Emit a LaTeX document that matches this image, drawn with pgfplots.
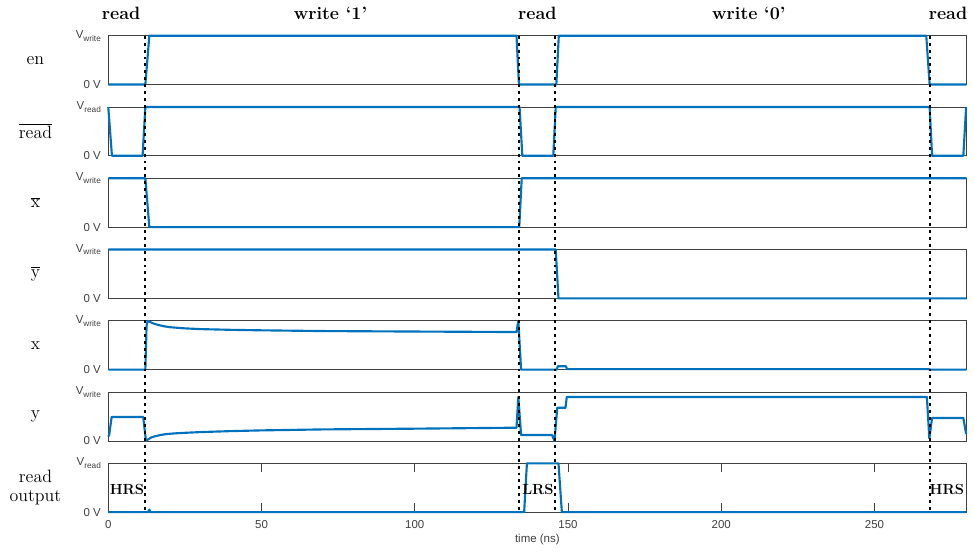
\documentclass[border=0pt]{standalone}
\usepackage{fontspec}
\setsansfont{Liberation Sans}
\usepackage{pgfplots}
\pgfplotsset{compat=1.18}
\definecolor{mblue}{RGB}{0,114,189}
\definecolor{axgray}{RGB}{64,64,64}

\newcommand{\lblfont}{\fontsize{13.4}{14.5}\selectfont}
\newcommand{\tickfont}{\sffamily\fontsize{8.6}{10}\selectfont}
\newcommand{\vsub}[1]{V\raisebox{-0.45ex}{\fontsize{6.2}{7}\selectfont #1}}

\pgfplotsset{
  panel/.style={
    scale only axis, width=643.6pt, height=36.6pt, anchor=north west,
    xmin=0, xmax=280, ymin=0, ymax=1, clip=false,
    xtick=\empty, ytick={0,1}, ytick style={draw=none},
    axis line style={axgray, line width=0.5pt},
    yticklabel style={font=\tickfont, text=axgray, xshift=-2pt}},
  sig/.style={mblue, line width=1.6pt, line join=round, no marks}
}

\begin{document}
\begin{tikzpicture}
\useasboundingbox (-81.2pt,26.8pt) rectangle (649.3pt,-388.7pt);

% en
\begin{axis}[panel, at={(0pt,0pt)}, yticklabels={0 V,\vsub{write}}]
\addplot[sig] coordinates {(0,0) (12.1,0) (13.4,1) (133.2,1) (134.0,0) (146.2,0) (147.0,1) (266.9,1) (268.0,0) (280,0)};
\node[font=\lblfont, xshift=-54.6pt] at (axis description cs:0,0.5) {en};
\node[font=\lblfont\bfseries, anchor=base, yshift=12.5pt] at (axis cs:4.2,1) {read};
\node[font=\lblfont\bfseries, anchor=base, yshift=12.5pt] at (axis cs:72.5,1) {write `1'};
\node[font=\lblfont\bfseries, anchor=base, yshift=12.5pt] at (axis cs:140,1) {read};
\node[font=\lblfont\bfseries, anchor=base, yshift=12.5pt] at (axis cs:209,1) {write `0'};
\node[font=\lblfont\bfseries, anchor=base, yshift=12.5pt] at (axis cs:274,1) {read};
\coordinate (T1) at (axis cs:11.9,1);
\coordinate (T2) at (axis cs:134.0,1);
\coordinate (T3) at (axis cs:145.9,1);
\coordinate (T4) at (axis cs:268.0,1);
\end{axis}

% read bar
\begin{axis}[panel, at={(0pt,-53.45pt)}, yticklabels={0 V,\vsub{read}}]
\addplot[sig] coordinates {(0,1) (1.2,0) (11.2,0) (12.1,1) (134.2,1) (135.1,0) (145.2,0) (146.0,1) (268.0,1) (268.8,0) (279.0,0) (279.9,1)};
\node[font=\lblfont, xshift=-54.6pt] at (axis description cs:0,0.5) {$\overline{\mbox{read}}$};
\end{axis}

% x bar
\begin{axis}[panel, at={(0pt,-106.9pt)}, yticklabels={0 V,\vsub{write}}]
\addplot[sig] coordinates {(0,1) (12.1,1) (13.4,0) (134.1,0) (134.9,1) (280,1)};
\node[font=\lblfont, xshift=-54.6pt] at (axis description cs:0,0.5) {$\overline{\mbox{x}}$};
\end{axis}

% y bar
\begin{axis}[panel, at={(0pt,-160.35pt)}, yticklabels={0 V,\vsub{write}}]
\addplot[sig] coordinates {(0,1) (146.0,1) (146.9,0) (280,0)};
\node[font=\lblfont, xshift=-54.6pt] at (axis description cs:0,0.5) {$\overline{\mbox{y}}$};
\end{axis}

% x
\begin{axis}[panel, at={(0pt,-213.8pt)}, yticklabels={0 V,\vsub{write}}]
\addplot[sig] coordinates {(0,0) (12.1,0) (12.5,0.9) (12.85,1.0) (13.5,0.98) (14.5,0.95) (16,0.92) (18,0.89) (20,0.87) (25,0.845) (30,0.83) (40,0.815) (50,0.805) (70,0.79) (100,0.78) (133.2,0.77) (133.8,1.0) (134.7,0) (146.3,0) (146.7,0.07) (149.3,0.07) (149.7,0.01) (267.5,0.01) (268.2,0) (280,0)};
\node[font=\lblfont, xshift=-54.6pt] at (axis description cs:0,0.5) {x};
\end{axis}

% y
\begin{axis}[panel, at={(0pt,-267.25pt)}, yticklabels={0 V,\vsub{write}}]
\addplot[sig] coordinates {(0,0.09) (0.3,0.12) (1.1,0.49) (11.4,0.49) (12.3,0.0) (13,0.03) (14,0.07) (15,0.09) (17,0.12) (19,0.14) (22,0.155) (25,0.165) (30,0.18) (40,0.2) (50,0.215) (70,0.235) (100,0.25) (133.2,0.27) (133.8,0.9) (134.7,0.12) (144.8,0.12) (145.6,0.0) (146.5,0.68) (149.2,0.68) (149.6,0.9) (267.1,0.9) (267.9,0.05) (268.8,0.47) (279.0,0.47) (279.9,0.14)};
\node[font=\lblfont, xshift=-54.6pt] at (axis description cs:0,0.5) {y};
\end{axis}

% read output
\begin{axis}[panel, at={(0pt,-320.7pt)}, yticklabels={0 V,\vsub{read}},
  xtick={0,50,100,150,200,250}, xticklabels={0,50,100,150,200,250},
  tick align=inside, major tick length=6.5pt, xtick style={axgray, line width=0.5pt},
  xticklabel style={font=\tickfont, text=axgray, yshift=-2.7pt},
  xlabel={time (ns)},
  xlabel style={font=\tickfont, text=axgray, at={(axis description cs:0.5,0)}, anchor=center, yshift=-20.7pt}]
\addplot[sig] coordinates {(0,0) (13.0,0) (13.4,0.05) (13.8,0) (135.7,0) (136.6,1) (146.9,1) (148.0,0) (280,0)};
\node[font=\lblfont, xshift=-54.6pt, align=center] at (axis description cs:0,0.5) {read\\output};
\node[font=\fontsize{11}{13}\selectfont\bfseries] at (axis cs:6.1,0.47) {HRS};
\node[font=\fontsize{11}{13}\selectfont\bfseries] at (axis cs:140.2,0.47) {LRS};
\node[font=\fontsize{11}{13}\selectfont\bfseries] at (axis cs:273.6,0.47) {HRS};
\coordinate (B1) at (axis cs:11.9,0);
\coordinate (B2) at (axis cs:134.0,0);
\coordinate (B3) at (axis cs:145.9,0);
\coordinate (B4) at (axis cs:268.0,0);
\end{axis}

\foreach \i in {1,2,3,4}
  \draw[black, line width=1.5pt, dash pattern=on 2.2pt off 3pt] (T\i) -- (B\i);
\end{tikzpicture}
\end{document}
